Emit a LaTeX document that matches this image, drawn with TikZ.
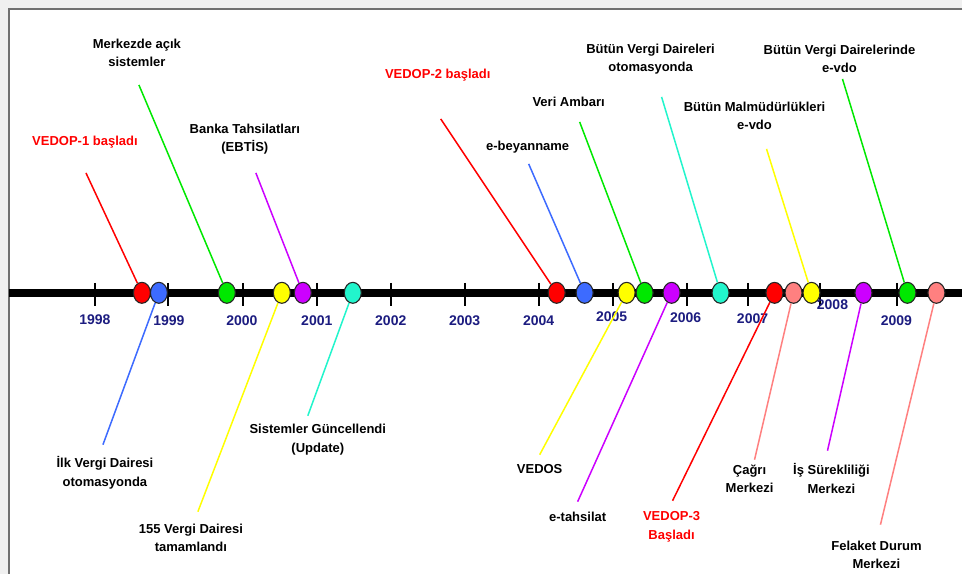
\documentclass[tikz,border=0pt]{standalone}
\usepackage{fontspec}
\setmainfont{Liberation Sans}
\usetikzlibrary{shapes.geometric}
\definecolor{cred}{HTML}{FF0000}
\definecolor{cblue}{HTML}{3D6BFF}
\definecolor{cgreen}{HTML}{00E800}
\definecolor{cyellow}{HTML}{FFFF00}
\definecolor{cpurple}{HTML}{CC00FF}
\definecolor{ccyan}{HTML}{22F5CC}
\definecolor{csalmon}{HTML}{FF8080}
\definecolor{navy}{HTML}{1C1C80}
\definecolor{bggray}{HTML}{F0F0F0}
\definecolor{framegray}{HTML}{707070}
\begin{document}
\begin{tikzpicture}[x=1pt,y=-1pt,
  ev/.style={ellipse, draw=black!85, line width=1.1pt, minimum width=17pt, minimum height=21pt, inner sep=0pt},
  lbl/.style={font=\bfseries\fontsize{13}{18.5}\selectfont, align=center, text=black, inner sep=0pt},
  rlbl/.style={lbl, text=cred},
  yr/.style={font=\bfseries\fontsize{14}{16}\selectfont, text=navy, inner sep=0pt},
  conn/.style={line width=1.5pt},
  yeartick/.style={line width=2pt, black}]
% background and frame
\fill[bggray] (0,0) rectangle (963,574);
\fill[white] (9,9) rectangle (963,574);
\draw[framegray, line width=1.2pt] (963,9) -- (9,9) -- (9,574);
\useasboundingbox (0,0) rectangle (963,574);
% axis
\draw[line width=8pt] (9,293) -- (963,293);
% ticks and years
\foreach \x/\ly/\lx/\t in {95/320/95/1998, 168/321/169/1999, 243/321/242/2000, 317/321/317/2001, 391/321/391/2002, 465/321/465/2003, 539/321/539/2004, 613/317/612/2005, 687/318/686/2006, 748/319/753/2007, 821/305/833/2008, 898/321/897/2009}{
  \draw[yeartick] (\x,283) -- (\x,306);
  \node[yr] (y\t) at (\lx,\ly) {\t};
}
% event circles
\node[ev, fill=cred]     (c1)  at (142,293) {};
\node[ev, fill=cblue]    (c2)  at (159,293) {};
\node[ev, fill=cgreen]   (c3)  at (227,293) {};
\node[ev, fill=cyellow]  (c4)  at (282,293) {};
\node[ev, fill=cpurple]  (c5)  at (303,293) {};
\node[ev, fill=ccyan]    (c6)  at (353,293) {};
\node[ev, fill=cred]     (c7)  at (557,293) {};
\node[ev, fill=cblue]    (c8)  at (585,293) {};
\node[ev, fill=cyellow]  (c9)  at (627,293) {};
\node[ev, fill=cgreen]   (c10) at (645,293) {};
\node[ev, fill=cpurple]  (c11) at (672,293) {};
\node[ev, fill=ccyan]    (c12) at (721,293) {};
\node[ev, fill=cred]     (c13) at (775,293) {};
\node[ev, fill=csalmon]  (c14) at (794,293) {};
\node[ev, fill=cyellow]  (c15) at (812,293) {};
\node[ev, fill=cpurple]  (c16) at (864,293) {};
\node[ev, fill=cgreen]   (c17) at (908,293) {};
\node[ev, fill=csalmon]  (c18) at (937,293) {};
% labels above
\node[rlbl] (t1)  at (85,142)  {VEDOP-1 başladı};
\node[lbl]  (t3)  at (137,53)  {Merkezde açık\\sistemler};
\node[lbl]  (t5)  at (245,139) {Banka Tahsilatları\\(EBTİS)};
\node[rlbl] (t7)  at (438,75)  {VEDOP-2 başladı};
\node[lbl]  (t8)  at (528,147) {e-beyanname};
\node[lbl]  (t10) at (569,102) {Veri Ambarı};
\node[lbl]  (t12) at (651,59)  {Bütün Vergi Daireleri\\otomasyonda};
\node[lbl]  (t15) at (755,116) {Bütün Malmüdürlükleri\\e-vdo};
\node[lbl]  (t17) at (840,59)  {Bütün Vergi Dairelerinde\\e-vdo};
% labels below
\node[lbl]  (t2)  at (105,473) {İlk Vergi Dairesi\\otomasyonda};
\node[lbl]  (t4)  at (191,538) {155 Vergi Dairesi\\tamamlandı};
\node[lbl]  (t6)  at (318,440) {Sistemler Güncellendi\\(Update)};
\node[lbl]  (t9)  at (540,469) {VEDOS};
\node[lbl]  (t11) at (578,517) {e-tahsilat};
\node[rlbl] (t13) at (672,527) {VEDOP-3\\Başladı};
\node[lbl]  (t14) at (750,479) {Çağrı\\Merkezi};
\node[lbl]  (t16) at (832,479) {İş Sürekliliği\\Merkezi};
\node[lbl]  (t18) at (877,555) {Felaket Durum\\Merkezi};
% connector free ends
\coordinate (e1)  at (86,173);
\coordinate (e3)  at (139,85);
\coordinate (e5)  at (256,173);
\coordinate (e7)  at (441,119);
\coordinate (e8)  at (529,164);
\coordinate (e10) at (580,122);
\coordinate (e12) at (662,97);
\coordinate (e15) at (767,149);
\coordinate (e17) at (843,79);
\coordinate (e2)  at (103,445);
\coordinate (e4)  at (198,512);
\coordinate (e6)  at (308,416);
\coordinate (e9)  at (540,455);
\coordinate (e11) at (578,502);
\coordinate (e13) at (673,501);
\coordinate (e14) at (755,460);
\coordinate (e16) at (828,451);
\coordinate (e18) at (881,525);
% connectors
\draw[conn, cred]    (e1)  -- (c1);
\draw[conn, cgreen]  (e3)  -- (c3);
\draw[conn, cpurple] (e5)  -- (c5);
\draw[conn, cred]    (e7)  -- (c7);
\draw[conn, cblue]   (e8)  -- (c8);
\draw[conn, cgreen]  (e10) -- (c10);
\draw[conn, ccyan]   (e12) -- (c12);
\draw[conn, cyellow] (e15) -- (c15);
\draw[conn, cgreen]  (e17) -- (c17);
\draw[conn, cblue]   (c2)  -- (e2);
\draw[conn, cyellow] (c4)  -- (e4);
\draw[conn, ccyan]   (c6)  -- (e6);
\draw[conn, cyellow] (c9)  -- (e9);
\draw[conn, cpurple] (c11) -- (e11);
\draw[conn, cred]    (c13) -- (e13);
\draw[conn, csalmon] (c14) -- (e14);
\draw[conn, cpurple] (c16) -- (e16);
\draw[conn, csalmon] (c18) -- (e18);
\end{tikzpicture}
\end{document}
